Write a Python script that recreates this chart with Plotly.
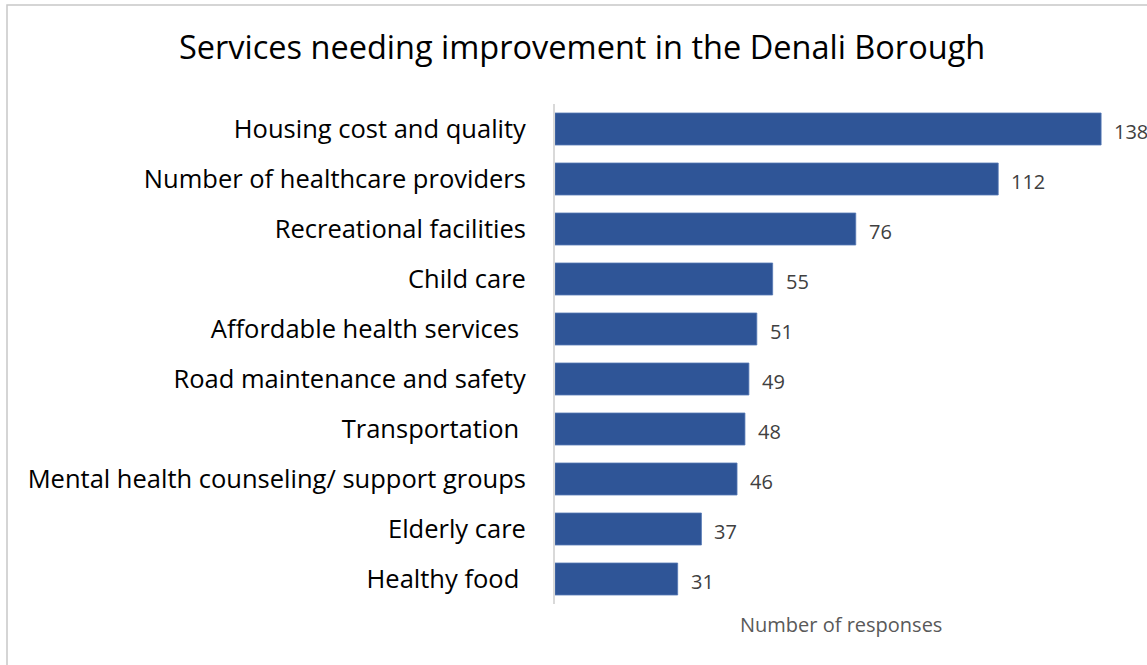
import plotly.graph_objects as go

# Survey results: services residents say need improvement
services = [
    "Housing cost and quality",
    "Number of healthcare providers",
    "Recreational facilities",
    "Child care",
    "Affordable health services ",
    "Road maintenance and safety",
    "Transportation ",
    "Mental health counseling/ support groups",
    "Elderly care",
    "Healthy food ",
]
responses = [138, 112, 76, 55, 51, 49, 48, 46, 37, 31]

title_text = "Services needing improvement in the Denali Borough"
x_title = "Number of responses"

W, H = 1147, 665
L, R, T, B = 555, 0, 104, 61
plot_w = W - L - R
plot_h = H - T - B
x_max = 149.6

FONT = "'Open Sans', Lato, sans-serif"
BAR_COLOR = "#2F5597"

fig = go.Figure(
    go.Bar(
        x=responses,
        y=services,
        orientation="h",
        marker=dict(color=BAR_COLOR, line=dict(color="#5578b5", width=0.8)),
        width=0.64,
        hoverinfo="x+y",
    )
)

# value labels just past the end of each bar
for s, v in zip(services, responses):
    fig.add_annotation(
        x=v, y=s, xref="x", yref="y",
        text=str(v), showarrow=False,
        xanchor="left", xshift=11, yshift=-2,
        font=dict(family=FONT, size=20, color="#404040"),
    )

# x-axis title
fig.add_annotation(
    x=(841 - L) / plot_w, y=(H - B - 624) / plot_h,
    xref="paper", yref="paper", text=x_title, showarrow=False,
    xanchor="center", yanchor="middle",
    font=dict(family=FONT, size=20, color="#595959"),
)

# chart title
fig.add_annotation(
    x=(582 - L) / plot_w, y=(H - B - 47) / plot_h,
    xref="paper", yref="paper", text=title_text, showarrow=False,
    xanchor="center", yanchor="middle",
    font=dict(family=FONT, size=32.5, color="#000000"),
)

# outer frame of the chart area
fig.add_shape(
    type="rect", xref="paper", yref="paper",
    x0=(7 - L) / plot_w, x1=(W + 20 - L) / plot_w,
    y0=(H - B - (H + 20)) / plot_h, y1=(H - B - 5) / plot_h,
    line=dict(color="#c8c8c8", width=1.5), fillcolor="rgba(0,0,0,0)",
    layer="below",
)

fig.update_layout(
    width=W, height=H,
    margin=dict(l=L, r=R, t=T, b=B),
    paper_bgcolor="white", plot_bgcolor="white",
    showlegend=False,
    xaxis=dict(range=[0, x_max], showticklabels=False, showgrid=False,
               zeroline=False, showline=False, ticks=""),
    yaxis=dict(autorange="reversed", showgrid=False, zeroline=False,
               showline=True, linecolor="#d9d9d9", linewidth=2,
               ticks="", ticklabelstandoff=22,
               tickfont=dict(family=FONT, size=25.5, color="#000000")),
)

fig.write_html("out.html")
